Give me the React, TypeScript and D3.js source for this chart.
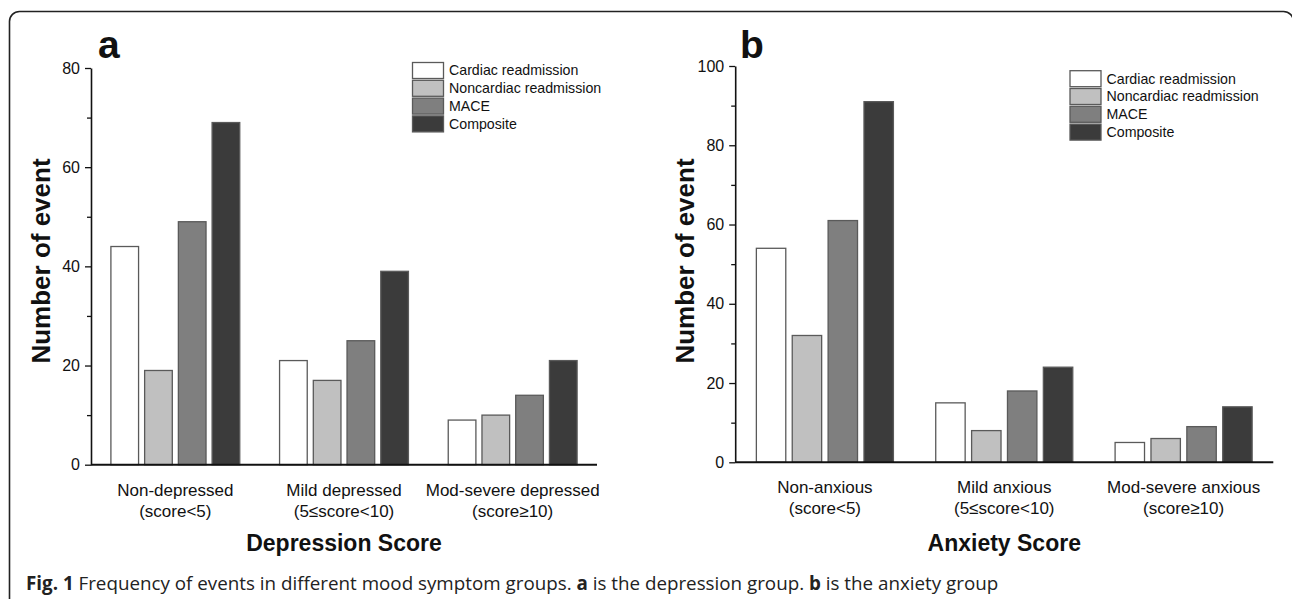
import React, { useEffect, useRef } from 'react';
import * as d3 from 'd3';

const svgWidth = 1292;
const svgHeight = 599;

const seriesNames = ['Cardiac readmission', 'Noncardiac readmission', 'MACE', 'Composite'];
const seriesColors = ['#ffffff', '#c0c0c0', '#7f7f7f', '#3b3b3b'];

const depressionGroups = ['Non-depressed', 'Mild depressed', 'Mod-severe depressed'];
const anxietyGroups = ['Non-anxious', 'Mild anxious', 'Mod-severe anxious'];
const scoreRanges = ['(score<5)', '(5≤score<10)', '(score≥10)'];

// values per series, one entry per group
const depressionCardiac = [44, 21, 9];
const depressionNoncardiac = [19, 17, 10];
const depressionMace = [49, 25, 14];
const depressionComposite = [69, 39, 21];

const anxietyCardiac = [54, 15, 5];
const anxietyNoncardiac = [32, 8, 6];
const anxietyMace = [61, 18, 9];
const anxietyComposite = [91, 24, 14];

const depressionTicks = [0, 20, 40, 60, 80];
const anxietyTicks = [0, 20, 40, 60, 80, 100];

const chartFont = '"Liberation Sans", Arial, sans-serif';

const drawPanel = (svg, opts) => {
  const { letter, groups, series, ticks, left, right, top, bottom, title } = opts;
  const g = svg.append('g');

  const x0 = d3.scaleBand().domain(groups).range([left, right]).padding(0);
  const x1 = d3
    .scaleBand()
    .domain(seriesNames)
    .range([x0.bandwidth() * 0.1, x0.bandwidth() * 0.9])
    .paddingInner(0.18)
    .paddingOuter(0.09);
  const yMax = ticks[ticks.length - 1];
  const y = d3.scaleLinear().domain([0, yMax]).range([bottom, top]);
  const color = d3.scaleOrdinal().domain(seriesNames).range(seriesColors);

  const rows = [];
  groups.forEach((grp, gi) => {
    seriesNames.forEach((s, si) => rows.push({ grp, s, v: series[si][gi] }));
  });

  g.selectAll('.bar')
    .data(rows)
    .enter()
    .append('rect')
    .attr('x', d => x0(d.grp) + x1(d.s))
    .attr('y', d => y(d.v))
    .attr('width', x1.bandwidth())
    .attr('height', d => bottom - y(d.v))
    .attr('fill', d => color(d.s))
    .attr('stroke', '#5a5a5a')
    .attr('stroke-width', 1.3);

  // minor ticks
  const minor = d3.range(10, yMax, 20);
  const minorAxis = g
    .append('g')
    .attr('transform', `translate(${left},0)`)
    .call(d3.axisLeft(y).tickValues(minor).tickSize(4).tickFormat(() => ''));
  minorAxis.select('.domain').remove();

  const yAxis = g
    .append('g')
    .attr('transform', `translate(${left},0)`)
    .call(d3.axisLeft(y).tickValues(ticks).tickSize(6).tickSizeOuter(0).tickPadding(5));
  yAxis.select('.domain').attr('stroke', '#111').attr('stroke-width', 1.6);
  yAxis.selectAll('line').attr('stroke', '#111').attr('stroke-width', 1.3);
  minorAxis.selectAll('line').attr('stroke', '#111').attr('stroke-width', 1.3);
  yAxis
    .selectAll('text')
    .attr('font-family', chartFont)
    .attr('font-size', 16)
    .attr('fill', '#111');

  // x axis line
  g.append('line')
    .attr('x1', left)
    .attr('x2', right)
    .attr('y1', y(0))
    .attr('y2', y(0))
    .attr('stroke', '#111')
    .attr('stroke-width', 2);

  groups.forEach((grp, gi) => {
    const cx = x0(grp) + x0.bandwidth() / 2;
    const t = g
      .append('text')
      .attr('text-anchor', 'middle')
      .attr('font-family', chartFont)
      .attr('font-size', 17)
      .attr('fill', '#111');
    t.append('tspan').attr('x', cx).attr('y', bottom + 31).text(grp);
    t.append('tspan').attr('x', cx).attr('y', bottom + 52).text(scoreRanges[gi]);
  });

  g.append('text')
    .attr('x', (left + right) / 2)
    .attr('y', 551)
    .attr('text-anchor', 'middle')
    .attr('font-family', chartFont)
    .attr('font-weight', 'bold')
    .attr('font-size', 23)
    .attr('fill', '#111')
    .text(title);

  g.append('text')
    .attr('transform', `translate(${left - 41.5},261) rotate(-90)`)
    .attr('text-anchor', 'middle')
    .attr('font-family', chartFont)
    .attr('font-weight', 'bold')
    .attr('font-size', 26)
    .attr('fill', '#111')
    .text('Number of event');

  g.append('text')
    .attr('x', opts.letterX)
    .attr('y', 57.5)
    .attr('font-family', chartFont)
    .attr('font-weight', 'bold')
    .attr('font-size', 39)
    .attr('fill', '#111')
    .text(letter);

  // legend
  const legend = g.append('g').attr('transform', `translate(${opts.legendX},${opts.legendY})`);
  seriesNames.forEach((s, i) => {
    legend
      .append('rect')
      .attr('x', 0)
      .attr('y', i * 17.8)
      .attr('width', 31)
      .attr('height', 16)
      .attr('fill', color(s))
      .attr('stroke', '#5a5a5a')
      .attr('stroke-width', 1.3);
    legend
      .append('text')
      .attr('x', 36.5)
      .attr('y', i * 17.8 + 8)
      .attr('dy', '0.35em')
      .attr('font-family', chartFont)
      .attr('font-size', 14.2)
      .attr('fill', '#111')
      .text(s);
  });
};

const App = () => {
  const chartRef = useRef(null);

  useEffect(() => {
    document.body.style.margin = '0';
    const svg = d3.select(chartRef.current);
    svg.selectAll('*').remove();

    svg.append('rect').attr('width', svgWidth).attr('height', svgHeight).attr('fill', '#fff');

    // figure frame (rounded, runs off the bottom/right)
    svg
      .append('rect')
      .attr('x', 9.5)
      .attr('y', 11.5)
      .attr('width', 1284)
      .attr('height', 700)
      .attr('rx', 10)
      .attr('fill', 'none')
      .attr('stroke', '#222')
      .attr('stroke-width', 1.6);

    drawPanel(svg, {
      letter: 'a',
      letterX: 98,
      groups: depressionGroups,
      series: [depressionCardiac, depressionNoncardiac, depressionMace, depressionComposite],
      ticks: depressionTicks,
      left: 91,
      right: 597,
      top: 68,
      bottom: 464.7,
      title: 'Depression Score',
      legendX: 412.5,
      legendY: 62.5,
    });

    drawPanel(svg, {
      letter: 'b',
      letterX: 740,
      groups: anxietyGroups,
      series: [anxietyCardiac, anxietyNoncardiac, anxietyMace, anxietyComposite],
      ticks: anxietyTicks,
      left: 735.2,
      right: 1273.3,
      top: 66,
      bottom: 462.3,
      title: 'Anxiety Score',
      legendX: 1070,
      legendY: 70.7,
    });

    const caption = svg
      .append('text')
      .attr('x', 26)
      .attr('y', 589.5)
      .attr('font-family', '"Open Sans", "Noto Sans", sans-serif')
      .attr('font-size', 18.8)
      .attr('fill', '#222');
    caption.append('tspan').attr('font-weight', 'bold').text('Fig. 1');
    caption.append('tspan').text(' Frequency of events in different mood symptom groups. ');
    caption.append('tspan').attr('font-weight', 'bold').text('a');
    caption.append('tspan').text(' is the depression group. ');
    caption.append('tspan').attr('font-weight', 'bold').text('b');
    caption.append('tspan').text(' is the anxiety group');
  }, []);

  return <svg ref={chartRef} width={svgWidth} height={svgHeight} style={{ display: 'block' }} />;
};

export default App;
